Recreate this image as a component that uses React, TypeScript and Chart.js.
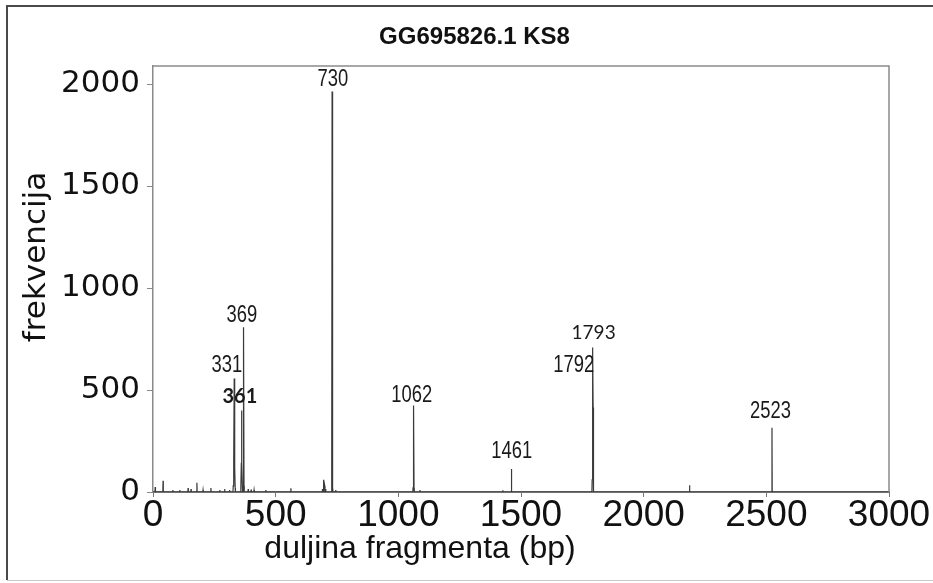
import React, { useEffect, useRef } from 'react';
import { Chart, registerables } from 'chart.js';

Chart.register(...registerables);

const chartTitle = 'GG695826.1 KS8';
const xAxisTitle = 'duljina fragmenta (bp)';
const yAxisTitle = 'frekvencija';

const xMin = 0;
const xMax = 3000;
const yMin = 0;
const yMax = 2090;
const xTicks = [0, 500, 1000, 1500, 2000, 2500, 3000];
const yTicks = [0, 500, 1000, 1500, 2000];

// non-zero bins of the fragment-length spectrum (bp) and their frequencies
const binBp = [
  9, 41, 81, 109, 143, 155, 179, 204, 236, 272, 292, 312,
  327, 329, 331, 333, 335,
  358, 360, 361, 362, 364, 369, 371,
  388, 400, 412, 460, 562,
  690, 694, 697, 700, 704,
  728, 729, 730, 731, 733, 745,
  1060, 1062, 1064, 1088, 1426, 1461,
  1790, 1791, 1792, 1793, 1794, 1795,
  2187, 2523,
];
const binFreq = [
  25, 55, 10, 10, 20, 15, 45, 10, 20, 10, 15, 10,
  30, 150, 557, 120, 20,
  20, 140, 400, 140, 30, 808, 30,
  15, 12, 10, 10, 18,
  15, 45, 60, 30, 15,
  30, 120, 1965, 120, 20, 10,
  20, 424, 20, 10, 8, 113,
  60, 415, 709, 700, 415, 60,
  33, 315,
];

// peak annotations: text, anchor (bp, frequency at text baseline)
const peakLabels = ['730', '369', '331', '361', '1062', '1461', '1793', '1792', '2523'];
const peakLabelBp = [733, 362, 301, 354, 1055, 1462, 1796, 1715, 2517];
const peakLabelFreq = [1990, 835, 590, 437, 442, 167, 752, 590, 364];

function buildSpectrum() {
  const pts: { x: number; y: number }[] = [{ x: xMin, y: 0 }];
  for (let i = 0; i < binBp.length; i++) {
    const bp = binBp[i];
    const prev = i > 0 ? binBp[i - 1] : -100;
    const next = i < binBp.length - 1 ? binBp[i + 1] : 1e9;
    if (bp - prev > 3) pts.push({ x: bp - 1, y: 0 });
    pts.push({ x: bp, y: binFreq[i] });
    if (next - bp > 3) pts.push({ x: bp + 1, y: 0 });
  }
  pts.push({ x: xMax, y: 0 });
  return pts;
}

function labelStyle(text: string) {
  if (text === '361') return { font: 'bold 20px Lato, "Open Sans", sans-serif', sx: 1 };
  if (text === '1793') return { font: '19px Lato, "Open Sans", sans-serif', sx: 1 };
  return { font: '23px "Liberation Sans", Arial, sans-serif', sx: 0.8 };
}

const decorPlugin = {
  id: 'decor',
  beforeDraw(chart: any) {
    const { ctx, width, height } = chart;
    ctx.save();
    ctx.fillStyle = '#ffffff';
    ctx.fillRect(0, 0, width, height);
    ctx.restore();
  },
  afterDraw(chart: any) {
    const { ctx, chartArea } = chart;
    const xs = chart.scales.x;
    const ys = chart.scales.y;
    ctx.save();
    // plot frame (top and right)
    ctx.strokeStyle = '#8a8a8a';
    ctx.lineWidth = 1.5;
    ctx.beginPath();
    ctx.moveTo(chartArea.left, chartArea.top);
    ctx.lineTo(chartArea.right, chartArea.top);
    ctx.lineTo(chartArea.right, chartArea.bottom);
    ctx.stroke();

    // outer border
    ctx.strokeStyle = '#4a4a4a';
    ctx.lineWidth = 2;
    ctx.beginPath();
    ctx.moveTo(933, 6);
    ctx.lineTo(7, 6);
    ctx.lineTo(7, 580);
    ctx.stroke();
    ctx.strokeStyle = '#c8c8c8';
    ctx.lineWidth = 1;
    ctx.beginPath();
    ctx.moveTo(7, 580.5);
    ctx.lineTo(933, 580.5);
    ctx.stroke();

    // title
    ctx.fillStyle = '#111';
    ctx.textAlign = 'center';
    ctx.textBaseline = 'alphabetic';
    ctx.font = 'bold 24px "Liberation Sans", Arial, sans-serif';
    ctx.fillText(chartTitle, 474.5, 44);

    // x axis title
    ctx.font = '32px "Liberation Sans", Arial, sans-serif';
    ctx.fillText(xAxisTitle, 420, 558);

    // y axis title
    ctx.save();
    ctx.translate(45, 257);
    ctx.rotate(-Math.PI / 2);
    ctx.font = '31px "DejaVu Sans", sans-serif';
    ctx.fillText(yAxisTitle, 0, 0);
    ctx.restore();

    // peak labels
    ctx.fillStyle = '#1a1a1a';
    for (let i = 0; i < peakLabels.length; i++) {
      const st = labelStyle(peakLabels[i]);
      const px = xs.getPixelForValue(peakLabelBp[i]);
      const py = ys.getPixelForValue(peakLabelFreq[i]);
      ctx.save();
      ctx.translate(px, py);
      ctx.scale(st.sx, 1);
      ctx.font = st.font;
      ctx.fillText(peakLabels[i], 0, 0);
      ctx.restore();
    }
    ctx.restore();
  },
};

export default function App() {
  const ref = useRef<HTMLCanvasElement | null>(null);
  useEffect(() => {
    document.body.style.margin = '0';
    const canvas = ref.current;
    if (!canvas) return;
    const chart = new Chart(canvas, {
      type: 'line',
      data: {
        datasets: [
          {
            data: buildSpectrum(),
            borderColor: '#3a3a3a',
            borderWidth: 1.2,
            pointRadius: 0,
            tension: 0,
            fill: false,
          },
        ],
      },
      options: {
        responsive: false,
        animation: false,
        devicePixelRatio: 1,
        layout: { padding: { top: 66, right: 44, left: 0, bottom: 0 } },
        plugins: { legend: { display: false }, title: { display: false }, tooltip: { enabled: false } },
        scales: {
          x: {
            type: 'linear',
            min: xMin,
            max: xMax,
            afterFit: (s: any) => { s.height = 91; },
            afterBuildTicks: (s: any) => { s.ticks = xTicks.map((v) => ({ value: v })); },
            ticks: {
              maxRotation: 0,
              autoSkip: false,
              padding: 0,
              color: '#111',
              callback: (v: any) => String(v),
              font: { family: '"Liberation Sans", Arial, sans-serif', size: 37, lineHeight: 1 },
            },
            grid: { drawOnChartArea: false, tickLength: 5, color: '#777', lineWidth: 1 },
            border: { display: true, color: '#707070', width: 2 },
          },
          y: {
            type: 'linear',
            min: yMin,
            max: yMax,
            afterFit: (s: any) => { s.width = 153; },
            afterBuildTicks: (s: any) => { s.ticks = yTicks.map((v) => ({ value: v })); },
            ticks: {
              autoSkip: false,
              padding: 7,
              color: '#111',
              callback: (v: any) => String(v),
              font: { family: '"DejaVu Sans", sans-serif', size: 31, lineHeight: 1 },
            },
            grid: { drawOnChartArea: false, tickLength: 6, color: '#888', lineWidth: 1 },
            border: { display: true, color: '#8a8a8a', width: 1.5 },
          },
        },
      },
      plugins: [decorPlugin],
    });
    return () => chart.destroy();
  }, []);
  return (
    <div style={{ position: 'absolute', left: 0, top: 0, width: 933, height: 583 }}>
      <canvas ref={ref} width={933} height={583} style={{ display: 'block' }} />
    </div>
  );
}
